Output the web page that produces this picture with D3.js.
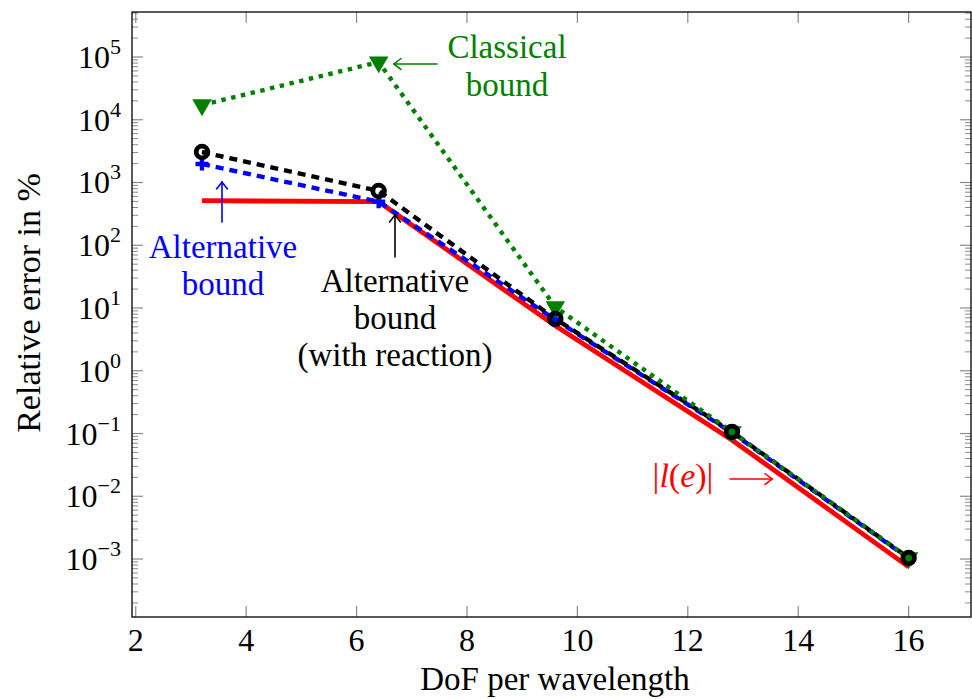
<!DOCTYPE html>
<html>
<head>
<meta charset="utf-8">
<script src="https://cdn.jsdelivr.net/npm/d3@7"></script>
<style>
html,body{margin:0;padding:0;background:#fff;}
svg{display:block;}
</style>
</head>
<body>
<svg id="chart" width="972" height="699" font-family="'Liberation Serif', 'Times New Roman', Times, 'DejaVu Serif', serif"></svg>
<script>
// ---- data ----
const dofPerWavelength = [3.2, 6.4, 9.6, 12.8, 16];
const classicalBound   = [1.72e4, 8.3e4, 10.4, 0.106, 1.04e-3];
const altBoundReaction = [3060, 733, 6.7, 0.106, 1.04e-3];
const altBound         = [1970, 495, 6.5, 0.103, 1.02e-3];
const absLe            = [513, 494, 5.2, 0.079, 7.5e-4];
const xTicks = [2, 4, 6, 8, 10, 12, 14, 16];
const yTickExps = [-3, -2, -1, 0, 1, 2, 3, 4, 5];

const W = 972, H = 699;
const plot = {left: 132, right: 971, top: 12, bottom: 617};
const svg = d3.select("#chart");
svg.append("rect").attr("width", W).attr("height", H).attr("fill", "#fff");

const x = d3.scaleLinear().domain([1.932, 17.13]).range([plot.left, plot.right]);
const y = d3.scaleLog().domain([Math.pow(10, -3.924), Math.pow(10, 5.717)]).range([plot.bottom, plot.top]);

const tickColor = "#8a8a8a";
const gT = svg.append("g");
const [ymin, ymax] = y.domain();
const minor = [];
for (let e = -4; e <= 5; e++) for (let m = 2; m <= 9; m++) { const v = m * Math.pow(10, e); if (v > ymin && v < ymax) minor.push(v); }
minor.forEach(v => {
  gT.append("line").attr("x1", plot.left).attr("x2", plot.left + 6).attr("y1", y(v)).attr("y2", y(v)).attr("stroke", tickColor).attr("stroke-width", 1);
  gT.append("line").attr("x1", plot.right).attr("x2", plot.right - 6).attr("y1", y(v)).attr("y2", y(v)).attr("stroke", tickColor).attr("stroke-width", 1);
});
yTickExps.forEach(e => {
  const v = Math.pow(10, e);
  gT.append("line").attr("x1", plot.left).attr("x2", plot.left + 11).attr("y1", y(v)).attr("y2", y(v)).attr("stroke", tickColor).attr("stroke-width", 1.2);
  gT.append("line").attr("x1", plot.right).attr("x2", plot.right - 11).attr("y1", y(v)).attr("y2", y(v)).attr("stroke", tickColor).attr("stroke-width", 1.2);
  const t = svg.append("text").attr("x", 121).attr("y", y(v) + 11).attr("text-anchor", "end").attr("font-size", 32).attr("fill", "#000");
  t.append("tspan").text("10");
  t.append("tspan").attr("dy", -14).attr("font-size", 22).text(e < 0 ? "\u2212" + (-e) : String(e));
});
xTicks.forEach(v => {
  gT.append("line").attr("x1", x(v)).attr("x2", x(v)).attr("y1", plot.bottom).attr("y2", plot.bottom - 11).attr("stroke", tickColor).attr("stroke-width", 1.2);
  gT.append("line").attr("x1", x(v)).attr("x2", x(v)).attr("y1", plot.top).attr("y2", plot.top + 11).attr("stroke", tickColor).attr("stroke-width", 1.2);
  svg.append("text").attr("x", x(v)).attr("y", 651).attr("text-anchor", "middle").attr("font-size", 32).text(v);
});

svg.append("rect").attr("x", plot.left).attr("y", plot.top).attr("width", plot.right - plot.left).attr("height", plot.bottom - plot.top)
  .attr("fill", "none").attr("stroke", "#000").attr("stroke-width", 1.3);

svg.append("text").attr("x", 555).attr("y", 690).attr("text-anchor", "middle").attr("font-size", 33).text("DoF per wavelength");
svg.append("text").attr("transform", "translate(40,303) rotate(-90)").attr("text-anchor", "middle").attr("font-size", 34).text("Relative error in %");

// lines
const pts = vals => dofPerWavelength.map((d, i) => [x(d), y(vals[i])]);
const line = d3.line();
const gL = svg.append("g");
gL.append("path").attr("d", line(pts(absLe))).attr("fill", "none").attr("stroke", "#ff0000").attr("stroke-width", 4.8);
gL.append("path").attr("d", line(pts(altBound))).attr("fill", "none").attr("stroke", "#0000ff").attr("stroke-width", 4.4).attr("stroke-dasharray", "8 6");
gL.append("path").attr("d", line(pts(altBoundReaction))).attr("fill", "none").attr("stroke", "#000").attr("stroke-width", 4.4).attr("stroke-dasharray", "8 6");
gL.append("path").attr("d", line(pts(classicalBound))).attr("fill", "none").attr("stroke", "#008000").attr("stroke-width", 4.4).attr("stroke-dasharray", "4.4 5.6");

// markers
const cross = d3.symbol().type(d3.symbolCross).size(95);
pts(altBound).forEach(p => svg.append("path").attr("d", cross()).attr("transform", `translate(${p[0]},${p[1]})`).attr("fill", "#0000ff"));
const tri = d3.symbol().type(d3.symbolTriangle).size(165);
pts(classicalBound).forEach(p => svg.append("path").attr("d", tri()).attr("transform", `translate(${p[0]},${p[1]}) rotate(180)`).attr("fill", "#008000"));
pts(altBoundReaction).forEach(p => svg.append("circle").attr("cx", p[0]).attr("cy", p[1]).attr("r", 5.8).attr("fill", "none").attr("stroke", "#000").attr("stroke-width", 4.8));

// annotations
function arrow(x1, y1, x2, y2, color) {
  const g = svg.append("g").attr("stroke", color).attr("fill", "none").attr("stroke-width", 1.6).attr("stroke-linecap", "round");
  g.append("line").attr("x1", x1).attr("y1", y1).attr("x2", x2).attr("y2", y2);
  const a = Math.atan2(y2 - y1, x2 - x1);
  const ux = Math.cos(a), uy = Math.sin(a), px = -uy, py = ux;
  const L = 7, Wd = 5.5;
  [1, -1].forEach(s => {
    const ex = x2 - ux * L + px * Wd * s, ey = y2 - uy * L + py * Wd * s;
    const cx = x2 - ux * 2 + px * 1.5 * s, cy = y2 - uy * 2 + py * 1.5 * s;
    g.append("path").attr("d", `M${x2},${y2} Q${cx},${cy} ${ex},${ey}`);
  });
}
function label(lines, cx, y0, dy, color, size) {
  lines.forEach((s, i) => svg.append("text").attr("x", cx).attr("y", y0 + i * dy).attr("text-anchor", "middle").attr("font-size", size).attr("fill", color).text(s));
}
label(["Classical", "bound"], 507, 58, 38, "#008000", 33);
arrow(437, 64, 394, 64, "#008000");
label(["Alternative", "bound"], 223, 258, 37, "#0000ff", 33);
arrow(222, 222, 222, 182, "#0000ff");
label(["Alternative", "bound", "(with reaction)"], 395, 292, 37, "#000", 33);
arrow(395, 257, 395, 215, "#000");
const le = svg.append("text").attr("x", 683).attr("y", 487).attr("text-anchor", "middle").attr("font-size", 34).attr("fill", "#ff0000");
le.append("tspan").text("|");
le.append("tspan").attr("font-style", "italic").text("l");
le.append("tspan").text("(");
le.append("tspan").attr("font-style", "italic").text("e");
le.append("tspan").text(")|");
arrow(730, 479, 772, 479, "#ff0000");
</script>
</body>
</html>
